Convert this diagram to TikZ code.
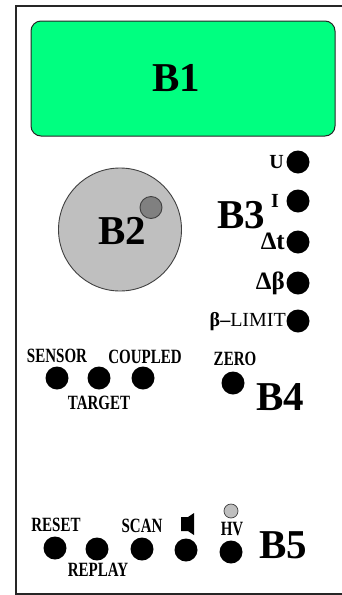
\documentclass[tikz,border=0pt]{standalone}
\usepackage{graphicx}
\usepackage{fontspec}
\setmainfont{Liberation Serif}
\newcommand\tall[1]{\scalebox{1}[1.35]{#1}}
\definecolor{dispgreen}{HTML}{00FF80}
\tikzset{
 led/.style={circle,fill=black,draw=none,minimum size=23pt,inner sep=0pt},
 lab/.style={font=\fontsize{15}{15}\selectfont\bfseries,inner sep=0pt,text=black},
 sidelab/.style={font=\fontsize{20}{20}\selectfont\bfseries,inner sep=0pt,text=black},
 greeklab/.style={font=\fontsize{25}{25}\selectfont\bfseries,inner sep=0pt,text=black},
 big/.style={font=\fontsize{41}{41}\selectfont\bfseries,inner sep=0pt,text=black}
}
\begin{document}
\begin{tikzpicture}[x=1pt,y=-1pt]
\useasboundingbox (0,0) rectangle (342,595);
\fill[white] (0,0) rectangle (342,595);
\coordinate (tr) at (342,6);
\coordinate (tl) at (16,6);
\coordinate (bl) at (16,594);
\coordinate (br) at (342,594);
\draw[black!85,line width=1.2pt] (tr) -- (tl) -- (bl) -- (br);
\draw[black!85,line width=1pt,fill=dispgreen,rounded corners=10pt] (31,21) rectangle (335,136);
\node[big] (b1) at (176,78) {B1};
\node[circle,draw=black!75,line width=0.9pt,fill=black!25,minimum size=123pt,inner sep=0pt] (dial) at (120,229.5) {};
\node[big] (b2) at (122,231) {B2};
\node[circle,draw=black!75,line width=0.9pt,fill=black!50,minimum size=22pt,inner sep=0pt] (knob) at (151,207.5) {};
\node[big] (b3) at (241,215) {B3};
\node[big] (b4) at (280,397) {B4};
\node[big] (b5) at (283,545) {B5};
% right column
\node[led] (ledu) at (298,162) {};
\node[led] (ledi) at (298,201) {};
\node[led] (ledt) at (298,242) {};
\node[led] (ledb) at (298,283) {};
\node[led] (ledl) at (298,321) {};
\node[sidelab,anchor=east] (lu) at (284,162) {U};
\node[sidelab] (li) at (275,201) {I};
\node[greeklab,anchor=east] (lt) at (285,241) {Δt};
\node[greeklab,anchor=east] (lb) at (285,283) {Δβ};
\node[sidelab,anchor=east] (ll) at (286,322) {β–\mdseries LIMIT};
% middle row
\node[led] (sensor) at (57,378) {};
\node[led] (target) at (99,378) {};
\node[led] (coupled) at (143,378) {};
\node[led] (zero) at (233,383) {};
\node[lab] (lsensor) at (57,356) {\tall{SENSOR}};
\node[lab] (lcoupled) at (145,357) {\tall{COUPLED}};
\node[lab] (ltarget) at (99,403) {\tall{TARGET}};
\node[lab] (lzero) at (235,359) {\tall{ZERO}};
% bottom row
\node[led] (reset) at (55,548) {};
\node[led] (replay) at (97,549) {};
\node[led] (scan) at (142,549) {};
\node[led] (sound) at (186,550) {};
\node[led] (hv) at (231,552) {};
\node[circle,draw=black!75,line width=0.7pt,fill=black!25,minimum size=14pt,inner sep=0pt] (hvlamp) at (231,511) {};
\node[lab] (lreset) at (56,525) {\tall{RESET}};
\node[lab] (lreplay) at (98,570) {\tall{REPLAY}};
\node[lab] (lscan) at (142,526) {\tall{SCAN}};
\node[lab] (lhv) at (232,529) {\tall{HV}};
\fill[black] (181,517) -- (188,517) -- (194,513) -- (194,535) -- (188,531) -- (181,531) -- cycle;
\end{tikzpicture}
\end{document}
